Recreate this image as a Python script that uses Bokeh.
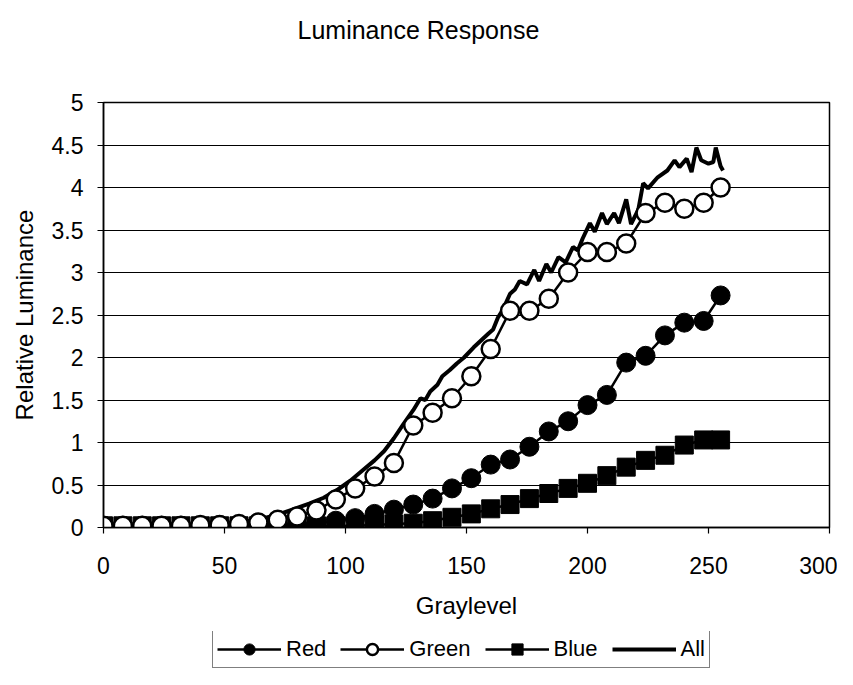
from bokeh.plotting import figure
from bokeh.layouts import column
from bokeh.models import Range1d, FixedTicker, CustomJSTickFormatter, Legend, LegendItem, Label
from bokeh.embed import file_html
from bokeh.resources import INLINE

# ---- data ----
gray = [0, 8, 16, 24, 32, 40, 48, 56, 64, 72, 80, 88, 96, 104, 112, 120, 128,
        136, 144, 152, 160, 168, 176, 184, 192, 200, 208, 216, 224, 232, 240, 248, 255]
red = [0.02, 0.02, 0.02, 0.02, 0.02, 0.02, 0.03, 0.03, 0.03, 0.04, 0.04, 0.05,
       0.08, 0.11, 0.16, 0.21, 0.27, 0.34, 0.46, 0.58, 0.74, 0.8, 0.95, 1.13,
       1.25, 1.44, 1.56, 1.94, 2.02, 2.26, 2.41, 2.43, 2.73]
green = [0.02, 0.02, 0.02, 0.02, 0.02, 0.03, 0.03, 0.04, 0.06, 0.09, 0.13, 0.2,
         0.33, 0.46, 0.6, 0.76, 1.2, 1.35, 1.52, 1.78, 2.1, 2.55, 2.55, 2.69,
         3.0, 3.24, 3.24, 3.34, 3.7, 3.82, 3.75, 3.82, 4.0]
blue = [0.02, 0.02, 0.02, 0.02, 0.02, 0.02, 0.02, 0.02, 0.02, 0.02, 0.02, 0.02,
        0.02, 0.02, 0.03, 0.04, 0.05, 0.08, 0.12, 0.16, 0.22, 0.27, 0.34, 0.4,
        0.46, 0.52, 0.61, 0.71, 0.79, 0.85, 0.97, 1.03, 1.03]
all_x = [0, 8, 16, 24, 32, 40, 48, 56, 65, 72, 78, 85, 91, 97, 102, 107, 112,
         116, 120, 124, 128, 131, 133, 135, 138, 140, 143, 146, 149, 153, 156,
         159, 161, 163, 165, 168, 170, 172, 175, 178, 180, 183, 185, 188, 191,
         194, 196, 198, 201, 203, 206, 208, 211, 213, 216, 218, 221, 223, 225,
         229, 233, 236, 238, 241, 243, 245, 247, 250, 252, 253, 255, 256]
all_y = [0.02, 0.02, 0.02, 0.02, 0.03, 0.03, 0.04, 0.06, 0.1, 0.15, 0.21, 0.28,
         0.35, 0.45, 0.55, 0.67, 0.79, 0.9, 1.05, 1.22, 1.38, 1.52, 1.5, 1.6,
         1.68, 1.78, 1.85, 1.93, 2.0, 2.12, 2.2, 2.28, 2.33, 2.47, 2.56, 2.75,
         2.8, 2.9, 2.86, 3.03, 2.9, 3.1, 3.0, 3.18, 3.12, 3.3, 3.26, 3.4, 3.58,
         3.48, 3.7, 3.57, 3.7, 3.58, 3.86, 3.57, 3.74, 4.05, 3.99, 4.12, 4.2,
         4.32, 4.24, 4.34, 4.18, 4.47, 4.32, 4.28, 4.3, 4.47, 4.25, 4.2]
x_ticks = [0, 50, 100, 150, 200, 250, 300]
y_ticks = [0, 0.5, 1, 1.5, 2, 2.5, 3, 3.5, 4, 4.5, 5]
series_names = ["Red", "Green", "Blue", "All"]
title_text = "Luminance Response"

FONT = "Liberation Sans"


def strip(height):
    f = figure(width=837, height=height, output_backend="svg", toolbar_location=None,
               x_range=Range1d(-20, -10), y_range=Range1d(-20, -10),
               x_axis_type=None, y_axis_type=None,
               min_border_left=103, min_border_right=8, min_border_top=0,
               min_border_bottom=0)
    f.outline_line_color = None
    f.background_fill_color = "white"
    f.border_fill_color = "white"
    f.grid.visible = False
    return f


# ---- title strip ----
tf = strip(60)
tf.add_layout(Label(x=194, y=31, x_units="screen", y_units="screen", text=title_text,
                    text_font=FONT, text_font_size="25px", text_color="black",
                    text_baseline="alphabetic", text_align="left"))

# ---- main chart ----
p = figure(width=837, height=571, output_backend="svg", toolbar_location=None,
           x_range=Range1d(0, 300), y_range=Range1d(0, 5),
           min_border_left=103, min_border_right=8, min_border_top=42,
           min_border_bottom=104)
p.title.text = ""
p.background_fill_color = "white"
p.border_fill_color = "white"
p.outline_line_color = "black"
p.outline_line_width = 1.5

for ax in (p.xaxis[0], p.yaxis[0]):
    ax.axis_line_color = "black"
    ax.axis_line_width = 1.5
    ax.major_tick_line_color = "black"
    ax.major_tick_line_width = 1.2
    ax.major_tick_out = 6
    ax.major_tick_in = 0
    ax.minor_tick_line_color = None
    ax.major_label_text_font = FONT
    ax.major_label_text_font_size = "23px"
    ax.major_label_text_color = "black"
    ax.axis_label_text_font = FONT
    ax.axis_label_text_font_size = "24px"
    ax.axis_label_text_font_style = "normal"
    ax.axis_label_text_color = "black"

p.xaxis.ticker = FixedTicker(ticks=x_ticks)
p.yaxis.ticker = FixedTicker(ticks=y_ticks)
p.yaxis.formatter = CustomJSTickFormatter(code="return String(tick)")
p.xaxis.axis_label = "Graylevel"
p.yaxis.axis_label = "Relative Luminance"
p.xaxis.major_label_standoff = 23
p.xaxis.axis_label_standoff = 15
p.yaxis.major_label_standoff = 14
p.yaxis.axis_label_standoff = 11

p.xgrid.visible = False
p.ygrid.ticker = FixedTicker(ticks=y_ticks)
p.ygrid.grid_line_color = "black"
p.ygrid.grid_line_width = 1.2


def draw_series(fig):
    a = fig.line(all_x, all_y, line_color="black", line_width=4)
    bl = fig.line(gray, blue, line_color="black", line_width=2.5)
    bs = fig.scatter(gray, blue, marker="square", size=18, fill_color="black", line_color="black")
    rl = fig.line(gray, red, line_color="black", line_width=2.5)
    rs = fig.scatter(gray, red, marker="circle", size=19, fill_color="black", line_color="black")
    gl = fig.line(gray, green, line_color="black", line_width=2.5)
    gs = fig.scatter(gray, green, marker="circle", size=18, fill_color="white",
                     line_color="black", line_width=2.5)
    return [[rl, rs], [gl, gs], [bl, bs], [a]]


draw_series(p)

# ---- legend strip (its copies of the series lie outside its view) ----
lf = strip(38)
groups = draw_series(lf)
legend = Legend(items=[LegendItem(label=n, renderers=g) for n, g in zip(series_names, groups)],
                orientation="horizontal", location=(109, 1))
legend.border_line_color = "black"
legend.border_line_width = 1.5
legend.glyph_width = 64
legend.glyph_height = 28
legend.label_standoff = 5
legend.spacing = 14
legend.padding = 4
legend.margin = 0
legend.label_text_font = FONT
legend.label_text_font_size = "22px"
legend.label_text_color = "black"
legend.background_fill_color = "white"
lf.add_layout(legend)

layout = column(tf, p, lf, spacing=0)
open("out.html", "w").write(file_html(layout, INLINE))
